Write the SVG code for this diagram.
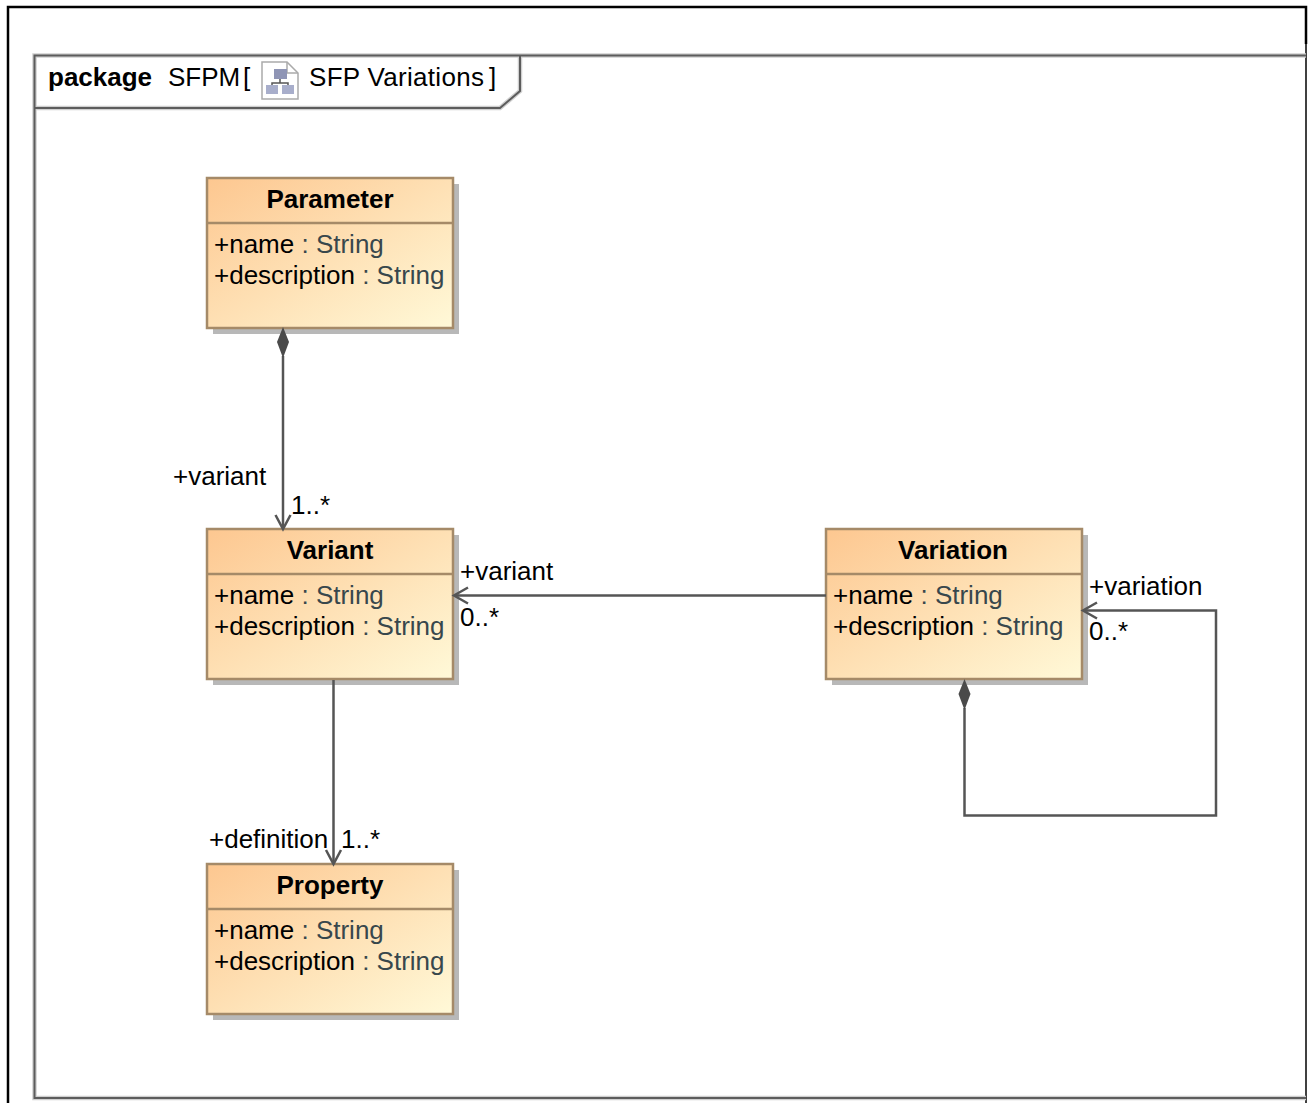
<svg xmlns="http://www.w3.org/2000/svg" width="1311" height="1103" viewBox="0 0 1311 1103">
<defs>
<linearGradient id="g" x1="0" y1="0" x2="1" y2="1"><stop offset="0" stop-color="#fdc790"/><stop offset="1" stop-color="#fff9d8"/></linearGradient>
<filter id="soft" x="-5%" y="-5%" width="110%" height="110%"><feGaussianBlur stdDeviation="0.6"/></filter>
</defs>
<style>
text{font-family:"Liberation Sans",Arial,sans-serif;font-size:26px;fill:#000}
.t{font-weight:bold;text-anchor:middle}
.b{font-weight:bold}
.ty{fill:#38474c}
.box{fill:url(#g);stroke:#a58a68;stroke-width:2.5}
.sh{fill:#b8b8b8}
.sep{stroke:#a58a68;stroke-width:2.5}
.c{fill:none;stroke:#555;stroke-width:2.5}
.d{fill:#4a4a4a}
.f{fill:none;stroke:#5c5c5c;stroke-width:2}
.h{fill:none;stroke:#cfcfcf;stroke-width:4.500}
</style>
<path d="M8 1103V7H1306V44" fill="none" stroke="#000" stroke-width="2.500"/>
<path d="M1306 44V1103" fill="none" stroke="#000" stroke-width="1.500"/>
<g id="frame">
<path class="h" d="M1306 55.500H34.500V1098H1306"/>
<path class="h" d="M34.500 108H500L520 91V55.500"/>
<path class="f" d="M1306 55.500H34.500V1098H1306"/>
<path class="f" d="M34.500 108H500L520 91V55.500"/>
<text class="b" x="48" y="86">package</text>
<text x="168" y="86">SFPM</text><text x="243" y="86">[</text>
<text x="309" y="86" letter-spacing="0.300">SFP Variations</text><text x="489" y="86">]</text>
<g id="icon"><path d="M262 62H287L298 73V99H262Z" fill="#fff" stroke="#aaa" stroke-width="1.500"/><path d="M287 62V73H298" fill="none" stroke="#aaa" stroke-width="1.500"/>
<rect x="274" y="69" width="13" height="10" fill="#8f95b5"/><rect x="266" y="85" width="12" height="9" fill="#a8aecb"/><rect x="282" y="85" width="12" height="9" fill="#a8aecb"/><path d="M280 79V83M272 85V83H288V85" fill="none" stroke="#555" stroke-width="1.500"/></g>
</g>
<g id="Parameter"><rect class="sh" x="213" y="184" width="246" height="150" filter="url(#soft)"/><rect class="box" x="207" y="178" width="246" height="150"/><path class="sep" d="M207 223H453"/><text class="t" x="330" y="208">Parameter</text><text x="214" y="253">+name <tspan class="ty">: String</tspan></text><text x="214" y="284">+description <tspan class="ty">: String</tspan></text></g>
<g id="Variant"><rect class="sh" x="213" y="535" width="246" height="150" filter="url(#soft)"/><rect class="box" x="207" y="529" width="246" height="150"/><path class="sep" d="M207 574H453"/><text class="t" x="330" y="559">Variant</text><text x="214" y="604">+name <tspan class="ty">: String</tspan></text><text x="214" y="635">+description <tspan class="ty">: String</tspan></text></g>
<g id="Variation"><rect class="sh" x="832" y="535" width="256" height="150" filter="url(#soft)"/><rect class="box" x="826" y="529" width="256" height="150"/><path class="sep" d="M826 574H1082"/><text class="t" x="953" y="559">Variation</text><text x="833" y="604">+name <tspan class="ty">: String</tspan></text><text x="833" y="635">+description <tspan class="ty">: String</tspan></text></g>
<g id="Property"><rect class="sh" x="213" y="870" width="246" height="150" filter="url(#soft)"/><rect class="box" x="207" y="864" width="246" height="150"/><path class="sep" d="M207 909H453"/><text class="t" x="330" y="894">Property</text><text x="214" y="939">+name <tspan class="ty">: String</tspan></text><text x="214" y="970">+description <tspan class="ty">: String</tspan></text></g>
<g id="connectors">
<path class="c" d="M283 356V527"/><path class="c" d="M275.500 515L283 529L290.500 515"/>
<path class="c" d="M826 595.500H454"/><path class="c" d="M468 587.500L454 595.500L468 603.500"/>
<path class="c" d="M333.500 680V863"/><path class="c" d="M326 850L333.500 864L341 850"/>
<path class="c" d="M964.500 708V815.500H1216V610.500H1083"/><path class="c" d="M1097 602.500L1083 610.500L1097 618.500"/>
<path class="d" d="M283 327L289 342L283 358L277 342Z"/>
<path class="d" d="M964.500 679L970.500 694L964.500 710L958.500 694Z"/>
</g>
<g id="labels">
<text x="173" y="485">+variant</text><text x="291" y="514">1..*</text>
<text x="460" y="580">+variant</text><text x="460" y="626">0..*</text>
<text x="1089" y="595">+variation</text><text x="1089" y="640">0..*</text>
<text x="209" y="848">+definition</text><text x="341" y="848">1..*</text>
</g>
</svg>
